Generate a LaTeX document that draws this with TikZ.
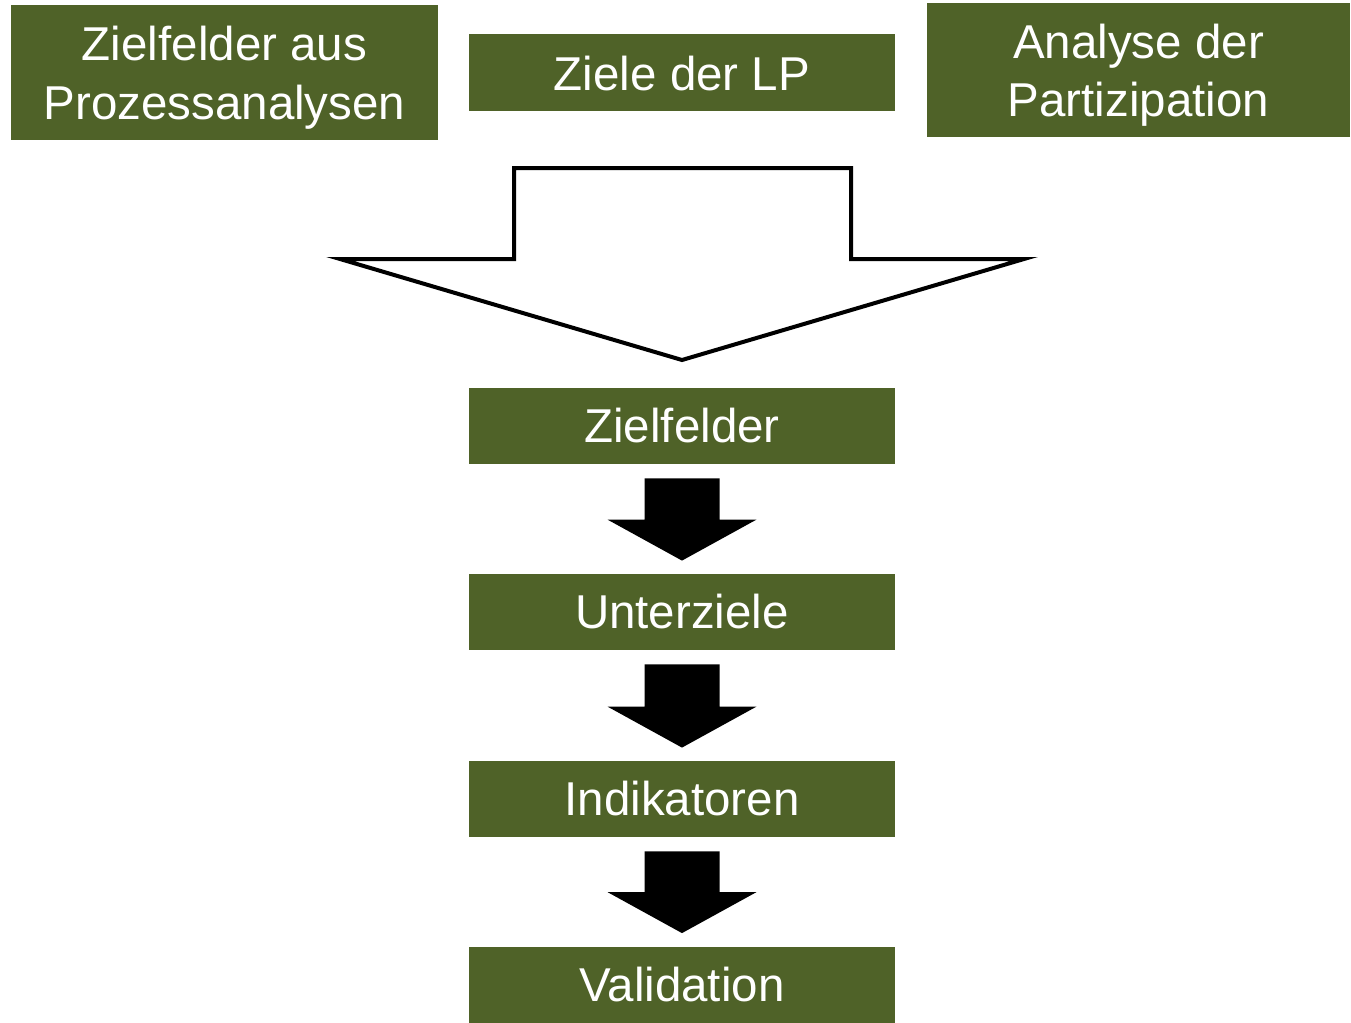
\documentclass[tikz,border=0pt]{standalone}
\usepackage{fontspec}
\setmainfont{Liberation Sans}
\usetikzlibrary{calc}
\definecolor{olive}{HTML}{4F6228}
\tikzset{
  box/.style={fill=olive, text=white, inner sep=0pt, align=center,
    font=\fontsize{23.75pt}{29.25pt}\selectfont},
  boxtext/.style={text=white, inner sep=0pt, align=center,
    font=\fontsize{23.75pt}{29.25pt}\selectfont},
  blockarrow/.style={fill=black},
  bigarrow/.style={draw=black, line width=2pt, fill=white, miter limit=20}
}
\newcommand\blockarr[2]{%
  \fill[blockarrow] ($(#1.south)+(-37.5,14)$) -- ($(#1.south)+(37.5,14)$)
    -- ($(#2.north)+(37.5,-54)$) -- ($(#2.north)+(74.5,-54)$)
    -- ($(#2.north)+(0,-13)$)
    -- ($(#2.north)+(-74.5,-54)$) -- ($(#2.north)+(-37.5,-54)$) -- cycle;}
\begin{document}
\begin{tikzpicture}[x=0.5pt,y=-0.5pt]
\useasboundingbox (0,0) rectangle (1351,1023);
\node[box, minimum width=213.5pt, minimum height=67.5pt] (zp) at (224.5,72.5) {};
\node[boxtext] at ($(zp)+(0,5)$) {Zielfelder aus\\Prozessanalysen};
\node[box, minimum width=213pt, minimum height=38.5pt] (lp) at (682,72.5) {};
\node[boxtext] at ($(lp)+(0,1.5)$) {Ziele der LP};
\node[box, minimum width=211.5pt, minimum height=67pt] (ap) at (1138.5,70) {};
\node[boxtext] at ($(ap)+(0,5)$) {Analyse der\\Partizipation};
\node[box, minimum width=213pt, minimum height=38pt] (zf) at (682,426) {Zielfelder};
\node[box, minimum width=213pt, minimum height=38pt] (uz) at (682,612) {Unterziele};
\node[box, minimum width=213pt, minimum height=38pt] (ind) at (682,799) {Indikatoren};
\node[box, minimum width=213pt, minimum height=38pt] (val) at (682,984.5) {Validation};
% big outline arrow
\draw[bigarrow] (514,168) -- (851,168) -- (851,259) -- (1024,259) -- (682,360)
  -- (340,259) -- (514,259) -- cycle;
\blockarr{zf}{uz}
\blockarr{uz}{ind}
\blockarr{ind}{val}
\end{tikzpicture}
\end{document}
